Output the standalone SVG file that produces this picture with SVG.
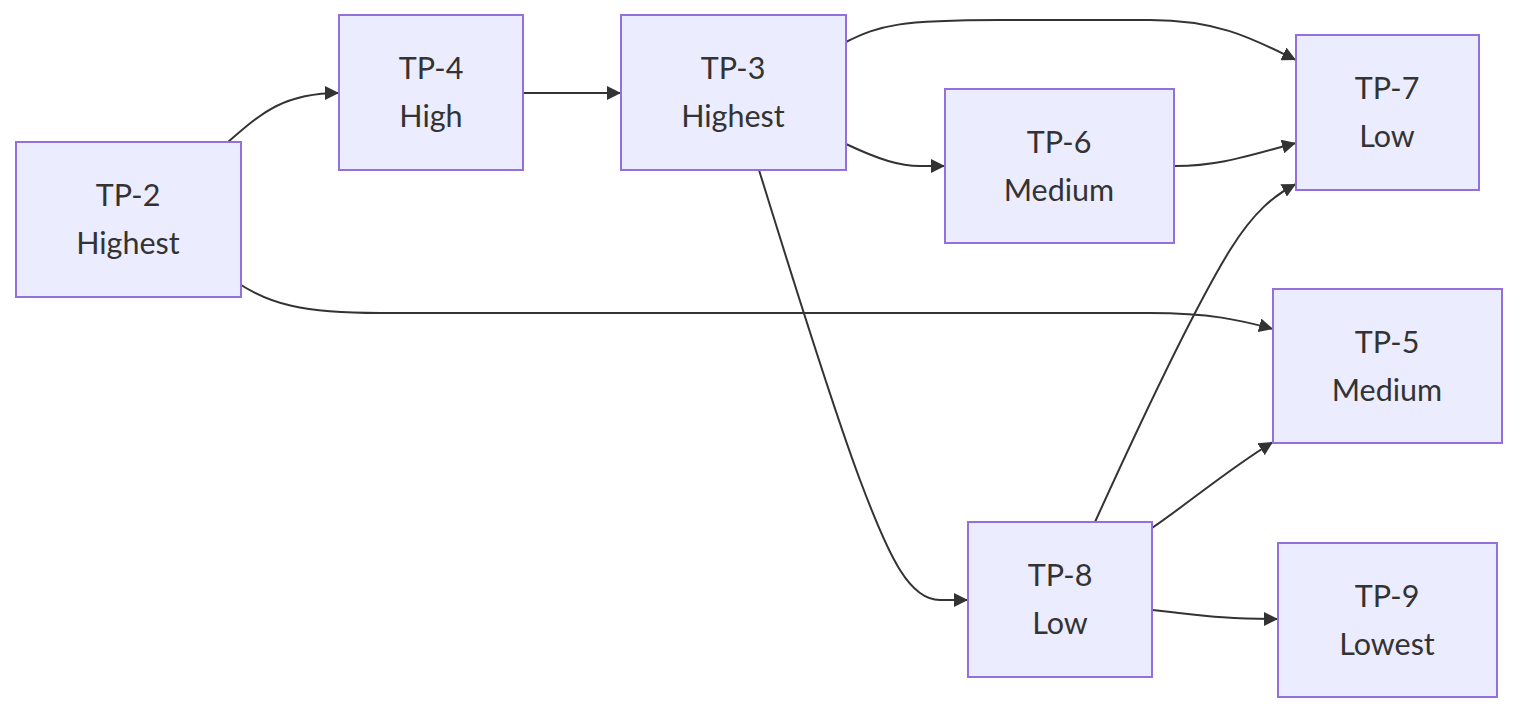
<svg xmlns="http://www.w3.org/2000/svg" width="1534" height="720" viewBox="0 0 1534 720">
<style>
.node rect{fill:#ECECFF;stroke:#9370DB;stroke-width:2}
.node text{font-family:Lato,"Open Sans",sans-serif;font-size:30.5px;fill:#333;text-anchor:middle}
.edges path{fill:none;stroke:#333;stroke-width:2}
</style>
<defs>
<marker id="arr" viewBox="0 0 10 10" refX="10" refY="5" markerWidth="14" markerHeight="14" markerUnits="userSpaceOnUse" orient="auto">
<path d="M0,0 L10,5 L0,10 z" fill="#333"/>
</marker>
</defs>
<rect width="1534" height="720" fill="#fff"/>
<g class="edges">
<path marker-end="url(#arr)" d="M228,142 C262,112 285,93 339,93"/>
<path marker-end="url(#arr)" d="M523,93 L621,93"/>
<path marker-end="url(#arr)" d="M846,42 C880,25 900,20 1000,20 L1150,20 C1220,20 1255,40 1296,60"/>
<path marker-end="url(#arr)" d="M846,144 C880,160 900,166 920,166 L945,166"/>
<path marker-end="url(#arr)" d="M759,170 C790,270 830,400 860,480 C890,560 910,600 940,600 L968,600"/>
<path marker-end="url(#arr)" d="M1175,166 C1220,166 1250,155 1296,143"/>
<path marker-end="url(#arr)" d="M1095,522 C1130,445 1190,315 1230,250 C1255,210 1275,195 1296,184"/>
<path marker-end="url(#arr)" d="M241,285 C270,303 300,313 380,313 L1150,313 C1210,313 1240,320 1273,329"/>
<path marker-end="url(#arr)" d="M1152,528 C1190,502 1230,468 1273,442"/>
<path marker-end="url(#arr)" d="M1152,610 C1200,615 1220,619 1278,619"/>
</g>
<g id="TP-2" class="node"><rect x="16" y="142" width="225" height="155"/><text x="128" y="206">TP-2</text><text x="128" y="254">Highest</text></g>
<g id="TP-4" class="node"><rect x="339" y="15" width="184" height="155"/><text x="431" y="79">TP-4</text><text x="431" y="127">High</text></g>
<g id="TP-3" class="node"><rect x="621" y="15" width="225" height="155"/><text x="733" y="79">TP-3</text><text x="733" y="127">Highest</text></g>
<g id="TP-6" class="node"><rect x="945" y="89" width="229" height="154"/><text x="1059" y="153">TP-6</text><text x="1059" y="201">Medium</text></g>
<g id="TP-7" class="node"><rect x="1296" y="35" width="183" height="155"/><text x="1387" y="99">TP-7</text><text x="1387" y="147">Low</text></g>
<g id="TP-5" class="node"><rect x="1273" y="289" width="229" height="154"/><text x="1387" y="353">TP-5</text><text x="1387" y="401">Medium</text></g>
<g id="TP-8" class="node"><rect x="968" y="522" width="184" height="155"/><text x="1060" y="586">TP-8</text><text x="1060" y="634">Low</text></g>
<g id="TP-9" class="node"><rect x="1278" y="543" width="219" height="154"/><text x="1387" y="607">TP-9</text><text x="1387" y="655">Lowest</text></g>
</svg>
